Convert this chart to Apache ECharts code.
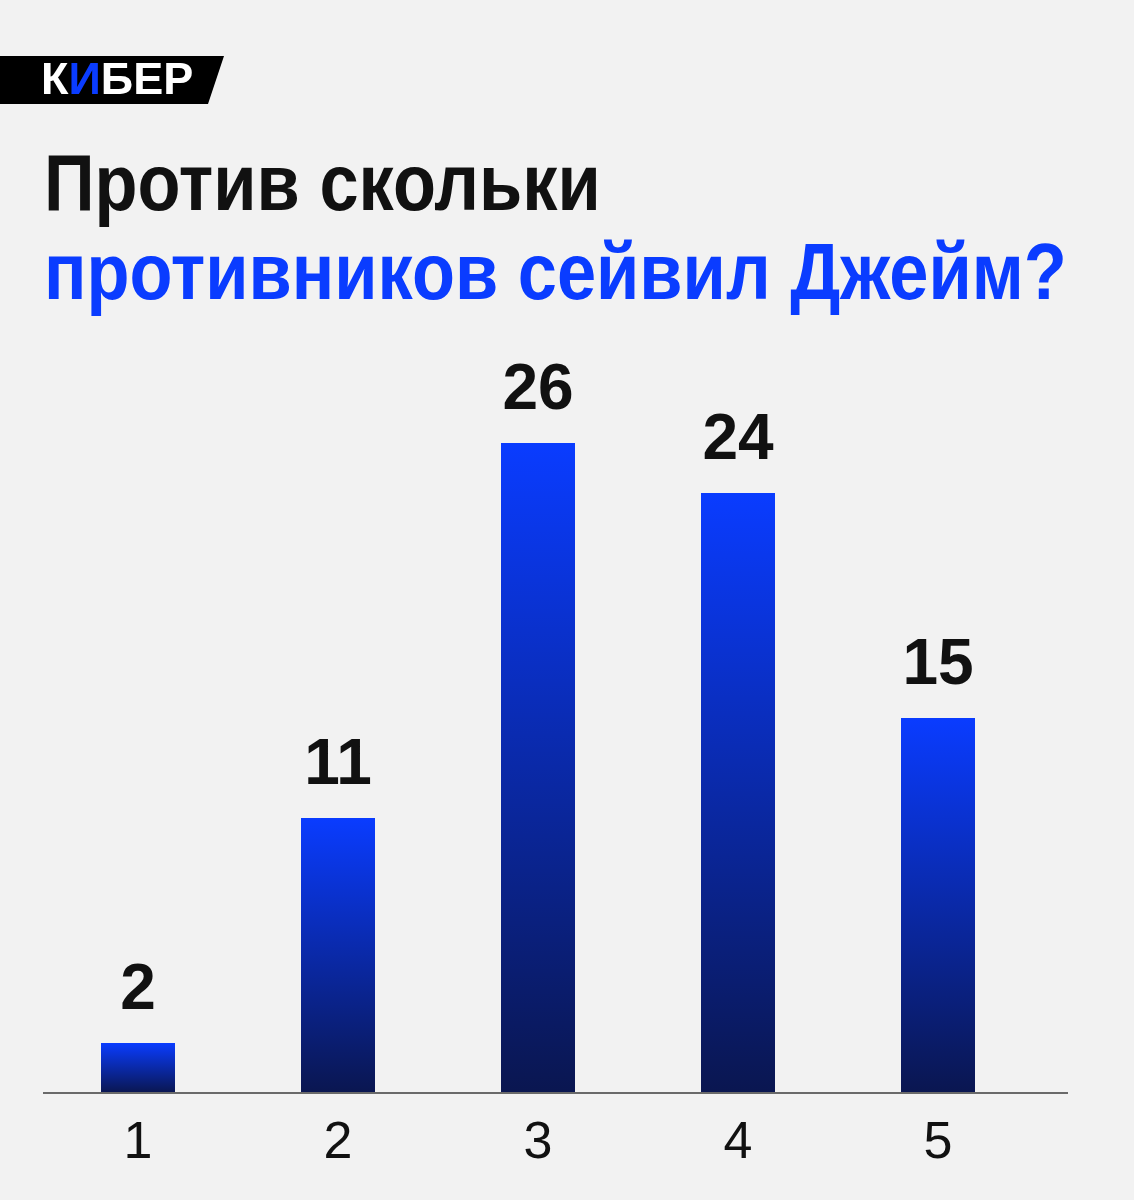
<!DOCTYPE html>
<html>
<head>
<meta charset="utf-8">
<script src="https://cdn.jsdelivr.net/npm/echarts@6/dist/echarts.min.js"></script>
<style>
html,body{margin:0;padding:0;background:#f2f2f2;}
#chart{width:1134px;height:1200px;}
</style>
</head>
<body>
<div id="chart"></div>
<script>
const categories = ['1', '2', '3', '4', '5'];
const values = [2, 11, 26, 24, 15];
const titleLine1 = 'Против скольки';
const titleLine2 = 'противников сейвил Джейм?';

const chart = echarts.init(document.getElementById('chart'));
const FONT = '"Liberation Sans", Arial, sans-serif';
chart.setOption({
  backgroundColor: '#f2f2f2',
  animation: false,
  grid: { left: 38, width: 1000, top: 343, bottom: 107 },
  xAxis: {
    type: 'category',
    data: categories,
    axisLine: { show: false },
    axisTick: { show: false },
    axisLabel: { fontFamily: FONT, fontSize: 52, color: '#111', margin: 25 }
  },
  yAxis: {
    type: 'value', min: 0, max: 30,
    show: false, splitLine: { show: false }
  },
  series: [{
    type: 'bar',
    data: values,
    barWidth: 74,
    itemStyle: {
      color: new echarts.graphic.LinearGradient(0, 0, 0, 1, [
        { offset: 0, color: '#0a3cff' },
        { offset: 1, color: '#0a1650' }
      ])
    },
    label: {
      show: true, position: 'top', distance: 20,
      fontFamily: FONT, fontWeight: 'bold', fontSize: 64, color: '#111'
    }
  }],
  graphic: [
    { type: 'line', shape: { x1: 43, y1: 1093, x2: 1068, y2: 1093 }, style: { stroke: '#6a6a6a', lineWidth: 2 }, z: 10 },
    { type: 'polygon', shape: { points: [[0, 56], [224, 56], [208, 104], [0, 104]] }, style: { fill: '#000' } },
    { type: 'text', x: 41, y: 82, style: {
        text: '{w|К}{b|И}{w|БЕР}', verticalAlign: 'middle',
        rich: {
          w: { fontFamily: FONT, fontWeight: 900, fontSize: 45, fill: '#fff' },
          b: { fontFamily: FONT, fontWeight: 900, fontSize: 45, fill: '#0a3cff' }
        }
    } },
    { type: 'text', x: 44, y: 188, scaleX: 0.88, style: { text: titleLine1, fontFamily: FONT, fontWeight: 'bold', fontSize: 80, fill: '#111', verticalAlign: 'middle' } },
    { type: 'text', x: 44, y: 277, scaleX: 0.88, style: { text: titleLine2, fontFamily: FONT, fontWeight: 'bold', fontSize: 80, fill: '#0a3cff', verticalAlign: 'middle' } }
  ]
});
</script>
</body>
</html>
